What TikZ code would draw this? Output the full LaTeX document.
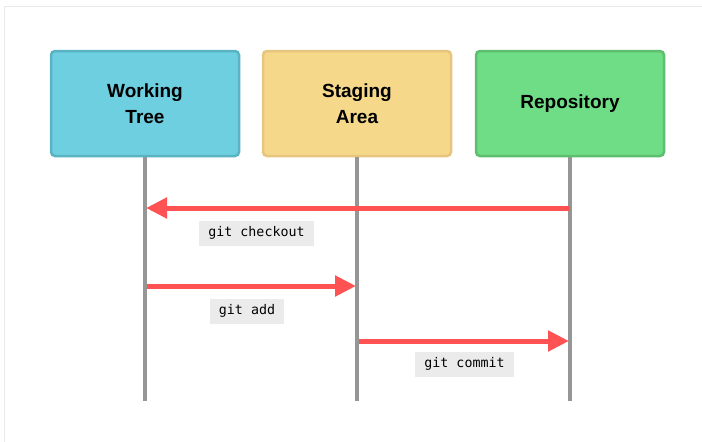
\documentclass[tikz,border=0pt]{standalone}
\usepackage{fontspec}
\setmainfont{Liberation Sans}
\setmonofont{DejaVu Sans Mono}
\usetikzlibrary{arrows.meta}

\definecolor{treefill}{HTML}{6DCFDF}
\definecolor{treeline}{HTML}{5AB3C3}
\definecolor{stagefill}{HTML}{F5D88A}
\definecolor{stageline}{HTML}{E7C57F}
\definecolor{repofill}{HTML}{6FDC86}
\definecolor{repoline}{HTML}{5DBE6E}
\definecolor{lifegray}{HTML}{969696}
\definecolor{cmdred}{HTML}{FF5252}
\definecolor{cmdbg}{HTML}{EBEBEB}
\definecolor{framegray}{HTML}{E9E9E9}

\tikzset{
	area/.style={rounded corners=4pt, line width=2.5pt, minimum width=188pt, minimum height=105pt,
		align=center, font=\fontsize{19}{26}\selectfont\bfseries},
	life/.style={line width=4pt, color=lifegray},
	cmd/.style={line width=5pt, color=cmdred, -{Triangle[length=21pt,width=20pt]}, shorten >=-1pt},
	cmdlabel/.style={fill=cmdbg, minimum height=25pt, inner xsep=9pt, font=\fontsize{13.3}{16}\ttfamily}
}

\begin{document}
\begin{tikzpicture}[x=1pt,y=-1pt]
			%%%%% START %%%%%
			
			\useasboundingbox (0, 0) rectangle (702, 442);
			\draw[line width=1pt, color=framegray] (4.5, 442) -- (4.5, 6.5) -- (702, 6.5);
			
			% the three areas
			\node[area, fill=treefill, draw=treeline] (tree) at (145, 103.5) {Working\\Tree};
			\node[area, fill=stagefill, draw=stageline] (stage) at (357, 103.5) {Staging\\Area};
			\node[area, fill=repofill, draw=repoline] (repo) at (570, 103.5) {Repository};
			
			% lifelines
			\coordinate (treeend) at (145, 401);
			\coordinate (stageend) at (357, 401);
			\coordinate (repoend) at (570, 401);
			\draw[life] (tree.south) -- (treeend);
			\draw[life] (stage.south) -- (stageend);
			\draw[life] (repo.south) -- (repoend);
			
			% commands
			\coordinate (checkoutfrom) at (570, 208);
			\coordinate (checkoutto) at (147, 208);
			\draw[cmd] (checkoutfrom) -- (checkoutto);
			\node[cmdlabel] (checkout) at (256.5, 233) {git checkout};
			
			\coordinate (addfrom) at (147, 286);
			\coordinate (addto) at (355, 286);
			\draw[cmd] (addfrom) -- (addto);
			\node[cmdlabel] (add) at (247, 311) {git add};
			
			\coordinate (commitfrom) at (359, 341);
			\coordinate (committo) at (568, 341);
			\draw[cmd] (commitfrom) -- (committo);
			\node[cmdlabel] (commit) at (464.5, 364) {git commit};
			
			%%%%% END %%%%%
\end{tikzpicture}
\end{document}
